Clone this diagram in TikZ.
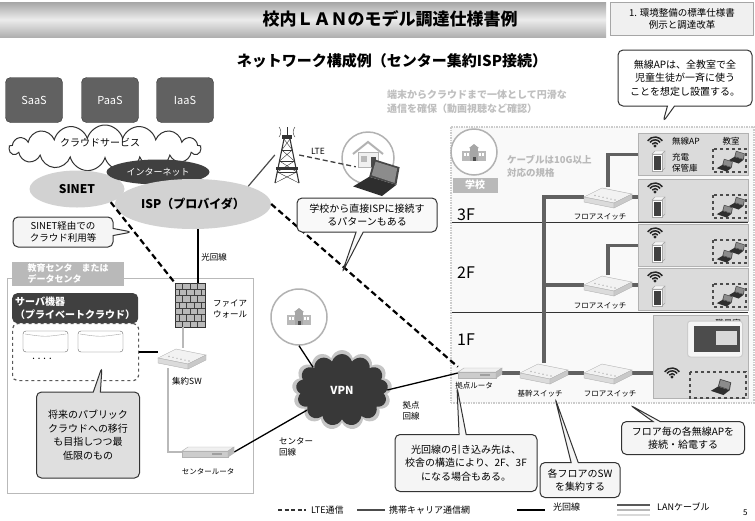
\documentclass[tikz,border=0pt]{standalone}
\usepackage{fontspec}
\setmainfont{Noto Sans CJK JP}
\usetikzlibrary{shapes.geometric,shapes.symbols,shapes.callouts,positioning}

% small icons, drawn around a point or a named node
\newcommand{\wifiicon}[1]{%
  \fill[black!85] (#1) circle (1.7);
  \foreach \r in {3.4,6.2,9}
    \draw[black!85, line width=1.5pt] (#1) ++(-145:\r) arc[start angle=-145, end angle=-35, radius=\r];
}
\newcommand{\lockericon}[1]{%
  \begin{scope}[shift={(#1)}]
    \draw[gray!70, fill=gray!8] (0,0) -- (3,-3) -- (13,-3) -- (10,0) -- cycle;
    \draw[gray!70, fill=gray!30] (10,0) -- (13,-3) -- (13,14) -- (10,17) -- cycle;
    \draw[gray!70, fill=white] (0,0) rectangle (10,17);
    \fill[black!75] (1.5,2) rectangle (8.5,16);
  \end{scope}}
\newcommand{\laptopicon}[2]{%
  \begin{scope}[shift={(#1)}, scale=#2]
    \fill[black!82] (-13,4) -- (5,10) -- (14,3) -- (-3,-2) -- cycle;
    \fill[black!72] (-3,-2) -- (0,-13) -- (16,-8) -- (14,3) -- cycle;
    \fill[black!45] (-1.5,-3) -- (1,-11.5) -- (14.5,-7.3) -- (12.8,1.8) -- cycle;
  \end{scope}}
\newcommand{\switchicon}[1]{%
  \begin{scope}[shift={(#1.center)}]
    \draw[gray!60, fill=gray!10] (-24,0) -- (-6,-9) -- (24,-3) -- (6,6) -- cycle;
    \draw[gray!60, fill=gray!28] (-24,0) -- (6,6) -- (6,11) -- (-24,5) -- cycle;
    \draw[gray!60, fill=gray!42] (6,6) -- (24,-3) -- (24,2) -- (6,11) -- cycle;
    \foreach \i in {0,...,5}
      \fill[gray!55] (-13+4*\i,-1.5+0.9*\i) circle (0.8);
  \end{scope}}
\newcommand{\routericon}[2]{%
  \begin{scope}[shift={(#1.center)}]
    \draw[gray!60, fill=gray!12] (-#2,-1) -- (-#2+6,-5) -- (#2,-5) -- (#2-6,-1) -- cycle;
    \draw[gray!60, fill=gray!40] (-#2,-1) rectangle (#2-6,5);
    \draw[gray!60, fill=gray!55] (#2-6,-1) -- (#2,-5) -- (#2,1) -- (#2-6,5) -- cycle;
    \fill[gray!75] (#2-22,1) rectangle (#2-12,3);
  \end{scope}}
\newcommand{\schoolicon}[1]{%
  \begin{scope}[shift={(#1)}]
    \fill[gray!55] (-12,-3) rectangle (12,7);
    \fill[gray!70] (-4,-6) rectangle (4,7);
    \fill[gray!70] (-5,-6) -- (0,-10) -- (5,-6) -- cycle;
    \foreach \x in {-10,-7,5,8}
      \fill[white] (\x,-1) rectangle (\x+2,2);
    \fill[black!70] (-1.5,3) rectangle (1.5,7);
  \end{scope}}

\begin{document}
\begin{tikzpicture}[x=1pt, y=-1pt,
  % line types
  lte/.style={black, line width=2.2pt, dash pattern=on 6pt off 3.5pt},
  ltethin/.style={black!75, line width=1.3pt, dash pattern=on 5pt off 3pt},
  carrier/.style={black!70, line width=1.2pt},
  fiber/.style={black, line width=1.6pt},
  lan/.style={black!62, line width=3.4pt},
  patch/.style={gray!55, line width=1.8pt},
  % boxes and labels
  note/.style={rectangle callout, rounded corners=5pt, draw=black!80, line width=1pt,
    fill=gray!8, align=center, font=\fontsize{10}{13.5}\selectfont, inner sep=2pt},
  room/.style={draw=gray!60, fill=gray!28, line width=0.8pt, minimum width=110pt,
    minimum height=42pt, anchor=north west, inner sep=0pt},
  devlabel/.style={font=\fontsize{7.5}{9}\selectfont, inner sep=1pt},
  floorlabel/.style={font=\fontsize{16}{16}\selectfont, anchor=west, inner sep=0pt},
  swnode/.style={minimum width=48pt, minimum height=20pt, inner sep=0pt},
  service/.style={fill=black!62, draw=black!80, rounded corners=5pt, minimum width=57pt,
    minimum height=45pt, text=white, font=\fontsize{11}{13}\selectfont},
  legendtext/.style={font=\fontsize{9}{11}\selectfont, anchor=west, inner sep=1pt}]

  \useasboundingbox (0,0) rectangle (755,520);
  \fill[white] (0,0) rectangle (755,520);

  % Header bar
  \shade[top color=gray!70, bottom color=gray!62, middle color=gray!15] (0,2) rectangle (606,37);
  \node[font=\bfseries\fontsize{17}{19}\selectfont] (ttl) at (390,19) {校内ＬＡＮのモデル調達仕様書例};
  \node[draw=gray!70, fill=gray!12, minimum width=143pt, minimum height=33pt, align=center,
    font=\fontsize{9.5}{12}\selectfont, inner sep=1pt] (hdr) at (682,19) {1. 環境整備の標準仕様書\\例示と調達改革};
  \node[font=\bfseries\fontsize{15}{17}\selectfont] (subttl) at (392,61) {ネットワーク構成例（センター集約ISP接続）};

  % Cloud services
  \node[service] (saas) at (34,100) {SaaS};
  \node[service] (paas) at (110,100) {PaaS};
  \node[service] (iaas) at (185,100) {IaaS};
  \node[cloud, cloud puffs=17, aspect=4.2, draw=black!80, line width=1pt, fill=white,
    minimum width=192pt, minimum height=46pt, inner sep=0pt] (csvc) at (105,148) {};
  \node[font=\fontsize{10}{12}\selectfont] (csvctext) at (100,143) {クラウドサービス};
  \node[ellipse, fill=gray!35, minimum width=95pt, minimum height=37pt,
    font=\bfseries\fontsize{12}{14}\selectfont] (sinet) at (77,189) {SINET};
  \node[ellipse, fill=black!75, minimum width=103pt, minimum height=25pt, text=white,
    font=\fontsize{9}{11}\selectfont] (inet) at (158,172) {インターネット};
  \node[ellipse, fill=gray!35, minimum width=120pt, minimum height=50pt,
    font=\bfseries\fontsize{12}{14}\selectfont] (isp) at (193,204) {ISP（プロバイダ）};

  % Education centre / data centre
  \node[draw=gray!55, line width=1.3pt, minimum width=246pt, minimum height=215pt,
    anchor=north west, inner sep=0pt] (edu) at (7,278) {};
  \node[fill=gray!55, text=white, font=\bfseries\fontsize{9}{11}\selectfont, align=left,
    anchor=north west, minimum width=112pt, minimum height=22pt, inner sep=2pt] (edutab) at (12,262)
    {教育センタ　または\\データセンタ};
  \node[draw=black!65, dashed, line width=1.2pt, rounded corners=5pt, minimum width=126pt,
    minimum height=57pt, anchor=north west, inner sep=0pt] (srv) at (12,323) {};
  \node[fill=black!75, rounded corners=5pt, minimum width=126pt, minimum height=30pt,
    anchor=north west, text=white, align=left, font=\bfseries\fontsize{10}{12.5}\selectfont,
    inner sep=2pt] (srvhead) at (12,293) {サーバ機器\\（プライベートクラウド）};
  \foreach \dx in {23,78} {
    \draw[black!60, fill=white, rounded corners=3pt] (\dx,331) rectangle (\dx+45,352);
    \draw[black!35] (\dx+2,334) .. controls (\dx+22,337) .. (\dx+43,334);
  }
  \node[font=\fontsize{10}{10}\selectfont] (srvdots) at (42,360) {····};
  \node[draw=black!80, fill=gray!55, minimum width=30pt, minimum height=44pt, inner sep=0pt,
    line width=0.8pt] (fw) at (190,305) {};
  \foreach \j in {1,...,6} \draw[black!75] (175,283+\j*6.3) -- (205,283+\j*6.3);
  \foreach \j in {0,2,4,6} \foreach \i in {182.5,190,197.5}
    \draw[black!75] (\i,283+\j*6.3) -- (\i,289.3+\j*6.3);
  \foreach \j in {1,3,5} \foreach \i in {178.75,186.25,193.75,201.25}
    \draw[black!75] (\i,283+\j*6.3) -- (\i,289.3+\j*6.3);
  \node[devlabel, align=left, font=\fontsize{8.5}{11}\selectfont] (fwlabel) at (230,309) {ファイア\\ウォール};
  \node[swnode] (csw) at (182,358) {};
  \node[devlabel, font=\fontsize{8.5}{10}\selectfont] (cswlabel) at (187,381) {集約SW};
  \node[minimum width=52pt, minimum height=14pt, inner sep=0pt] (crt) at (208,452) {};
  \node[devlabel] (crtlabel) at (208,472) {センタールータ};

  % Carrier tower and home
  \node[minimum width=24pt, minimum height=55pt, inner sep=0pt] (tower) at (287,155) {};
  \begin{scope}[shift={(287,183)}, black!80]
    \draw[line width=1.1pt] (-12,0) -- (-3,-44) (12,0) -- (3,-44);
    \draw (-9.75,-11) -- (9.75,-11) (-7.5,-22) -- (7.5,-22) (-5.25,-33) -- (5.25,-33);
    \draw (-12,0) -- (9.75,-11) (12,0) -- (-9.75,-11) (-9.75,-11) -- (7.5,-22)
      (9.75,-11) -- (-7.5,-22) (-7.5,-22) -- (5.25,-33) (7.5,-22) -- (-5.25,-33)
      (-5.25,-33) -- (3,-44) (5.25,-33) -- (-3,-44);
    \fill (-11,-16) rectangle (11,-13);
    \fill (-5,-48) rectangle (5,-44);
    \draw[line width=1pt] (0,-48) -- (0,-56);
    \draw (-8,-56) to[bend left=40] (-8,-46) (8,-56) to[bend right=40] (8,-46);
  \end{scope}
  \node[font=\fontsize{8.5}{10}\selectfont] (ltelabel) at (318,151) {LTE};
  \node[circle, draw=gray!60, line width=1.5pt, fill=white, minimum size=52pt] (home) at (368,158) {};
  \begin{scope}[shift={(368,156)}]
    \draw[gray!60, line width=2pt] (-15,-2) -- (0,-14) -- (15,-2);
    \draw[gray!60, fill=gray!12] (-10,-4) rectangle (10,11);
    \fill[gray!55] (-7,0) rectangle (-1,6);
    \fill[black!70] (3,1) rectangle (8,11);
  \end{scope}
  \node[minimum width=40pt, minimum height=22pt, inner sep=0pt] (homepc) at (376,178) {};

  % VPN side
  \node[circle, draw=gray!60, line width=1.5pt, fill=white, minimum size=56pt] (ecirc) at (299,317) {};
  \schoolicon{299,318}
  \node[cloud, cloud puffs=13, aspect=1.25, fill=black!45, opacity=0.5, minimum width=100pt,
    minimum height=80pt] (vpnhalo) at (342,390) {};
  \node[cloud, cloud puffs=13, aspect=1.25, fill=black!78, minimum width=92pt, minimum height=72pt,
    text=white, font=\bfseries\fontsize{11}{13}\selectfont] (vpn) at (342,390) {VPN};
  \node[devlabel, align=left, font=\fontsize{8.5}{11}\selectfont] (centerline) at (296,447) {センター\\回線};
  \node[devlabel, align=left, font=\fontsize{8.5}{11}\selectfont] (baseline) at (411,411) {拠点\\回線};

  % School building
  \node[draw=gray!40, densely dotted, line width=1.5pt, fill=gray!5, minimum width=303pt,
    minimum height=276pt, anchor=north west, inner sep=0pt] (school) at (450,126) {};
  \node[font=\bfseries\fontsize{10}{14}\selectfont, text=gray!50, align=left, anchor=north west,
    inner sep=0pt] (smooth) at (387,90) {端末からクラウドまで一体として円滑な\\通信を確保（動画視聴など確認）};
  \node[font=\bfseries\fontsize{9.5}{13}\selectfont, text=gray!55, align=left, anchor=west,
    inner sep=0pt] (spec) at (507,166) {ケーブルは10G以上\\対応の規格};
  \draw[black!80, line width=0.8pt] (452,222) -- (748,222);
  \draw[black!80, line width=0.8pt] (452,312) -- (748,312);
  \node[floorlabel] (f3) at (457,215) {3F};
  \node[floorlabel] (f2) at (457,273) {2F};
  \node[floorlabel] (f1) at (457,340) {1F};
  \node[circle, draw=gray!60, line width=1.5pt, fill=white, minimum size=46pt] (schoolcirc) at (474,152) {};
  \schoolicon{474,154}
  \node[fill=gray!55, text=white, font=\bfseries\fontsize{10}{12}\selectfont, minimum width=45pt,
    minimum height=15pt, inner sep=0pt] (schooltab) at (475,185) {学校};

  % Classrooms
  \foreach \ty/\rn in {133/r1,179/r2,224/r3,268/r4} {
    \node[room] (\rn) at (638,\ty) {};
    \wifiicon{655,\ty+13}
    \lockericon{652,\ty+21}
    \draw[gray!60!black, dashed, line width=1.2pt] (713,\ty+16) rectangle (746,\ty+39);
    \laptopicon{724,\ty+33}{0.55}
    \laptopicon{736,\ty+25}{0.55}
  }
  \node[devlabel, font=\fontsize{8.5}{10}\selectfont] (aplabel) at (686,141) {無線AP};
  \node[devlabel, font=\fontsize{8.5}{10}\selectfont] (roomlabel) at (731,141) {教室};
  \node[devlabel, align=left, font=\fontsize{8.5}{10.5}\selectfont, anchor=west] (lockerlabel) at (671,163) {充電\\保管庫};
  \node[room, minimum width=95pt, minimum height=83pt] (staff) at (653,315) {};
  \node[devlabel, font=\fontsize{8.5}{10}\selectfont] (stafflabel) at (728,323) {職員室};
  \node[draw=gray!40, fill=gray!8, rounded corners=3pt, line width=1pt, minimum width=55pt,
    minimum height=36pt, inner sep=0pt] (board) at (715,339) {};
  \fill[black!70] (694,326) rectangle (740,352);
  \fill[gray!30] (716,331) rectangle (737,345);
  \wifiicon{672,377}
  \draw[gray!60!black, dashed, line width=1.2pt] (690,372) rectangle (746,398);
  \laptopicon{720,388}{0.7}

  % Switches and routers in the school
  \node[swnode] (fsw3) at (608,197) {};
  \node[swnode] (fsw2) at (608,285) {};
  \node[swnode] (bsw) at (544,373) {};
  \node[swnode] (fsw1) at (608,373) {};
  \node[minimum width=44pt, minimum height=12pt, inner sep=0pt] (router) at (480,373) {};
  \node[devlabel] (fsw3label) at (600,217) {フロアスイッチ};
  \node[devlabel] (fsw2label) at (600,306) {フロアスイッチ};
  \node[devlabel] (bswlabel) at (540,394) {基幹スイッチ};
  \node[devlabel] (fsw1label) at (610,394) {フロアスイッチ};
  \node[devlabel] (routerlabel) at (474,386) {拠点ルータ};

  % LAN cables
  \draw[lan] (router.east) -- (bsw.west);
  \draw[lan] (bsw.east) -- (fsw1.west);
  \draw[lan] (fsw1.east) -- (fsw1.east -| staff.west);
  \draw[lan] (bsw.north) |- (fsw3.west);
  \draw[lan] (bsw.north |- fsw2.west) -- (fsw2.west);
  \draw[lan] (fsw3.east) -- (fsw3.east -| r2.west);
  \draw[lan] (fsw3.north) |- (r1.west);
  \draw[lan] (fsw2.east) -- (fsw2.east -| r4.west);
  \draw[lan] (fsw2.north) |- (r3.west);

  % Lines between the sites
  \draw[lte] (sinet.south east) -- (fw.north west);
  \draw[lte] (isp.east) -- (router.north west);
  \draw[ltethin] (tower.east) -- (homepc.north west);
  \draw[carrier] (isp.north east) -- (tower.west);
  \draw[fiber] ([xshift=8pt]fw.north) -- ([xshift=8pt]fw.north |- isp.south);
  \node[devlabel, font=\fontsize{8.5}{10}\selectfont] (fiberlabel) at (214,257) {光回線};
  \draw[fiber] (srv.east) -- (srv.east -| csw.west);
  \draw[patch] ([xshift=-7pt]fw.south) -- ([xshift=-7pt]fw.south |- csw.north);
  \draw[patch] ([xshift=-14pt]csw.south) |- (crt.west);
  \draw[fiber, line width=1.3pt] (crt.east) -- (vpn);
  \draw[fiber, line width=1.3pt] (ecirc.south) -- (vpn.north west);
  \draw[fiber, line width=1.3pt] (vpn.east) -- (router.west);

  % Device icons
  \switchicon{csw}
  \switchicon{fsw3}
  \switchicon{fsw2}
  \switchicon{bsw}
  \switchicon{fsw1}
  \routericon{router}{22}
  \routericon{crt}{26}
  \laptopicon{374,180}{1.6}

  % Callouts
  \node[note, fill=white, minimum width=134pt, minimum height=56pt,
    callout absolute pointer={(663,122)}] (noteap) at (685,78)
    {無線APは、全教室で全\\児童生徒が一斉に使う\\ことを想定し設置する。};
  \node[note, fill=gray!5, minimum width=140pt, minimum height=34pt,
    callout absolute pointer={(342,273)}] (notedirect) at (367,215)
    {学校から直接ISPに接続す\\るパターンもある};
  \node[note, font=\fontsize{9.5}{12.5}\selectfont, minimum width=100pt, minimum height=30pt,
    callout absolute pointer={(132,232)}] (notesinet) at (63,232)
    {SINET経由での\\クラウド利用等};
  \node[note, fill=gray!25, minimum width=103pt, minimum height=86pt,
    callout absolute pointer={(102,367)}] (notefuture) at (88,435)
    {将来のパブリック\\クラウドへの移行\\も目指しつつ最\\低限のもの};
  \node[note, minimum width=142pt, minimum height=57pt,
    callout absolute pointer={(457,387)}] (notefiber) at (466,463)
    {光回線の引き込み先は、\\校舎の構造により、2F、3F\\になる場合もある。};
  \node[note, minimum width=80pt, minimum height=35pt,
    callout absolute pointer={(555,398)}] (notebsw) at (580,480)
    {各フロアのSW\\を集約する};
  \node[note, minimum width=123pt, minimum height=33pt,
    callout absolute pointer={(630,405)}] (notefsw) at (683,438)
    {フロア毎の各無線APを\\接続・給電する};

  % Legend
  \coordinate (lteA) at (278,510);
  \coordinate (lteB) at (306,510);
  \draw[black!80, line width=1.3pt, dash pattern=on 4pt off 2.5pt] (lteA) -- (lteB);
  \node[legendtext] (lteT) at (310,510) {LTE通信};
  \coordinate (carA) at (357,510);
  \coordinate (carB) at (385,510);
  \draw[carrier, line width=1.5pt] (carA) -- (carB);
  \node[legendtext] (carT) at (388,510) {携帯キャリア通信網};
  \coordinate (fibA) at (517,510);
  \coordinate (fibB) at (545,510);
  \draw[fiber, line width=2.2pt] (fibA) -- (fibB);
  \node[legendtext] (fibT) at (552,507) {光回線};
  \coordinate (lanA) at (617,505);
  \coordinate (lanB) at (650,505);
  \draw[black!65, line width=2.6pt] (lanA) -- (lanB);
  \draw[gray!55, line width=2.6pt] ([yshift=-5pt]lanA) -- ([yshift=-5pt]lanB);
  \draw[gray!30, line width=2.6pt] ([yshift=-10pt]lanA) -- ([yshift=-10pt]lanB);
  \node[legendtext] (lanT) at (656,507) {LANケーブル};
  \node[legendtext, font=\fontsize{8}{10}\selectfont] (pageno) at (742,513) {5};
\end{tikzpicture}
\end{document}
